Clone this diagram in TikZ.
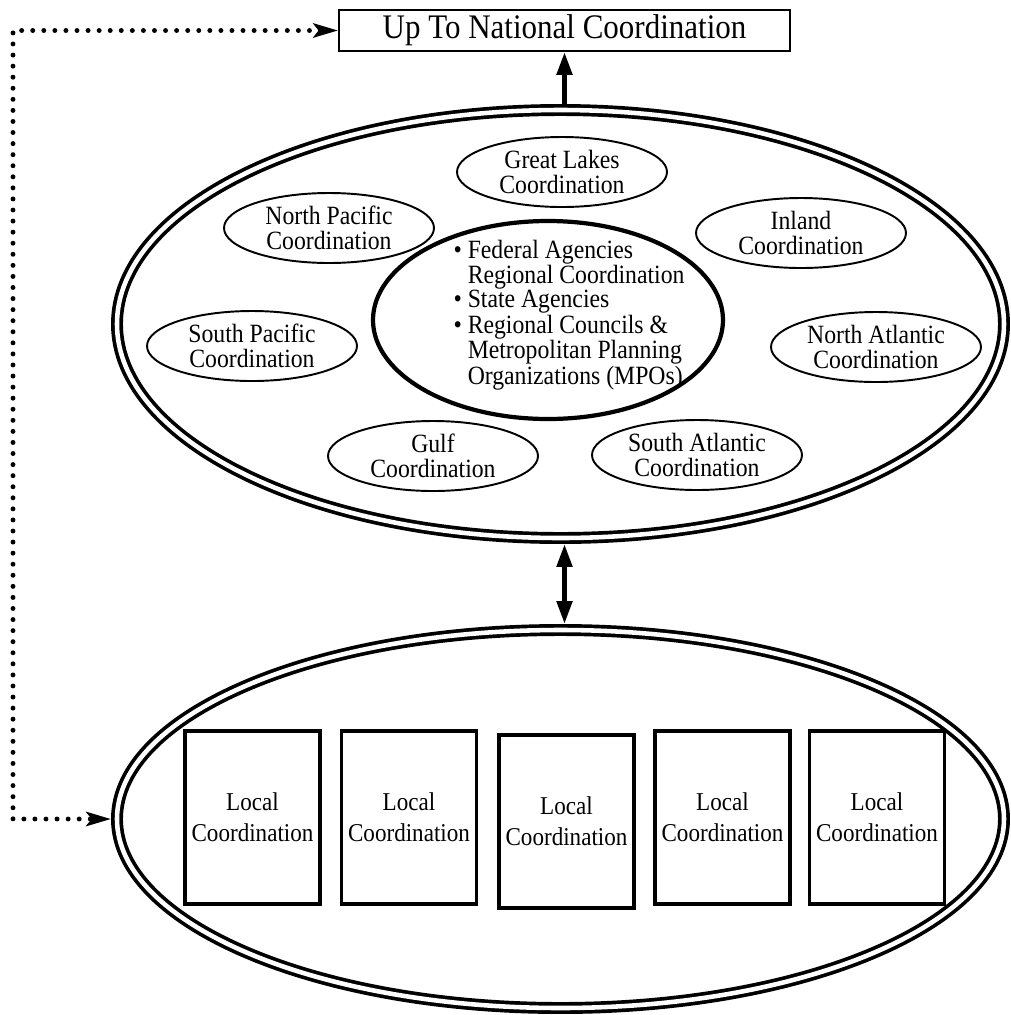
\documentclass[tikz,border=0pt]{standalone}
\usepackage{fontspec}
\setmainfont{Liberation Serif}[FakeStretch=0.9]
\usetikzlibrary{shapes.geometric,arrows.meta,positioning}

\begin{document}
\begin{tikzpicture}[x=0.02cm, y=-0.02cm,
		bigring/.style={draw, ellipse, double, line width=2.1pt, double distance=2.6pt, inner sep=0pt, outer sep=6*\pxu},
		region/.style={draw, ellipse, line width=1.1pt, inner sep=0pt, minimum width=210*\pxu, minimum height=70*\pxu, align=center, font=\fontsize{15}{14.2}\selectfont},
		hub/.style={draw, ellipse, line width=2.4pt, inner sep=0pt, minimum width=350*\pxu, minimum height=198*\pxu},
		localbox/.style={draw, line width=2pt, minimum width=135*\pxu, minimum height=173*\pxu, align=center, font=\fontsize{14.6}{17.6}\selectfont},
		topbox/.style={draw, line width=1.1pt, minimum width=451*\pxu, minimum height=41*\pxu, inner sep=0pt, font=\fontsize{19.6}{20}\selectfont},
		thickarrow/.style={line width=2.8pt, -{Triangle[length=13pt,width=8.5pt]}},
		dotline/.style={line width=2.8pt, line cap=round, dash pattern=on 0pt off 6.3pt, {Stealth[length=14pt,width=8pt,inset=3pt]}-{Stealth[length=14pt,width=8pt,inset=3pt]}}]
		\def\pxu{0.02cm}
		\useasboundingbox (0,0) rectangle (1011,1015);
		
		% the two rings
		\node[bigring, minimum width=887*\pxu, minimum height=428*\pxu] (regions) at (560.5,324) {};
		\node[bigring, minimum width=887*\pxu, minimum height=378*\pxu] (locals) at (560.5,819) {};
		
		\node[topbox] (natl) at (564.5,30.5) {Up To National Coordination};
		
		% regional coordination
		\node[hub] (hub) at (548,320) {};
		\node[align=left, inner sep=0pt, font=\fontsize{15}{13.4}\selectfont] (hubtext) at (569,315)
			{\textbullet\ Federal Agencies\\
			\hphantom{\textbullet\ }Regional Coordination\\
			\textbullet\ State Agencies\\
			\textbullet\ Regional Councils \&\\
			\hphantom{\textbullet\ }Metropolitan Planning\\
			\hphantom{\textbullet\ }Organizations (MPOs)};
		
		\node[region] (greatlakes) at (562,172) {Great Lakes\\Coordination};
		\node[region] (npacific) at (329,228) {North Pacific\\Coordination};
		\node[region] (inland) at (801,233) {Inland\\Coordination};
		\node[region] (spacific) at (252,346) {South Pacific\\Coordination};
		\node[region] (natlantic) at (876,347) {North Atlantic\\Coordination};
		\node[region] (gulf) at (433,456) {Gulf\\Coordination};
		\node[region] (satlantic) at (697,455) {South Atlantic\\Coordination};
		
		% local coordination
		\foreach \x/\y [count=\i] in {252.5/817.5, 409/817.5, 566.5/821.5, 722.5/817.5, 877/817.5} {
			\node[localbox] (local\i) at (\x,\y) {Local\\Coordination};
		}
		
		% connectors
		\coordinate (leftrail) at (13,28);
		\draw[thickarrow] (natl.south |- regions.north) -- (natl.south);
		\draw[thickarrow, {Triangle[length=13pt,width=8.5pt]}-{Triangle[length=13pt,width=8.5pt]}] (natl.south |- regions.south) -- (natl.south |- locals.north);
		\draw[dotline] (natl.west) -- (natl.west -| leftrail) |- (locals.west);
	\end{tikzpicture}
\end{document}
